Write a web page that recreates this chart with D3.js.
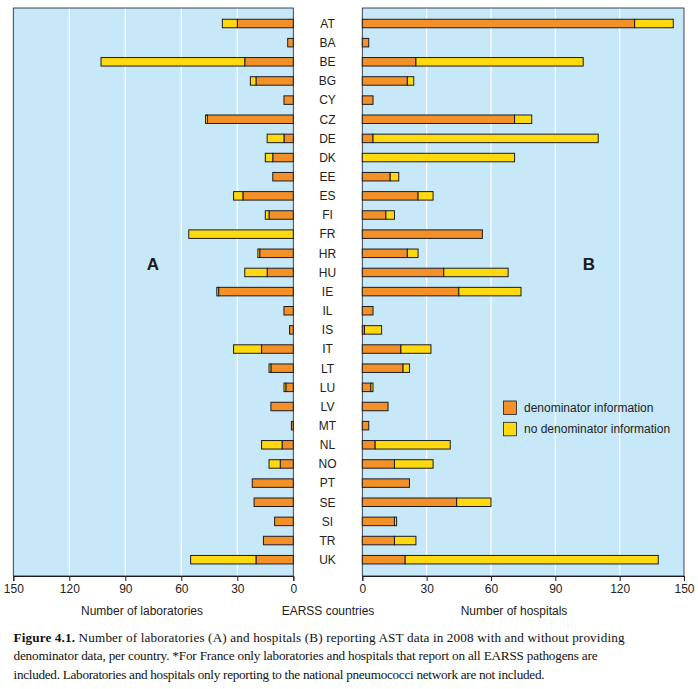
<!DOCTYPE html>
<html>
<head>
<meta charset="utf-8">
<script src="https://cdn.jsdelivr.net/npm/d3@7/dist/d3.min.js"></script>
<style>
  html, body { margin: 0; padding: 0; background: #ffffff; }
  svg { display: block; }
</style>
</head>
<body>
<svg id="chart" width="698" height="689"></svg>
<script>
// ---- data ----
const countries = ["AT","BA","BE","BG","CY","CZ","DE","DK","EE","ES","FI","FR","HR","HU","IE","IL","IS","IT","LT","LU","LV","MT","NL","NO","PT","SE","SI","TR","UK"];
const labDenom   = [30, 3, 26, 20, 5, 46, 5, 11, 11, 27, 13, 0, 18, 14, 40, 5, 2, 17, 12, 4, 12, 1, 6, 7, 22, 21, 10, 16, 20];
const labNoDenom = [ 8, 0, 77,  3, 0,  1, 9,  4,  0,  5,  2, 56, 1, 12,  1, 0, 0, 15,  1, 1,  0, 0, 11, 6,  0,  0,  0,  0, 35];
const hospDenom   = [127, 3, 25, 21, 5, 71, 5, 0, 13, 26, 11, 56, 21, 38, 45, 5, 1, 18, 19, 4, 12, 3, 6, 15, 22, 44, 15, 15, 20];
const hospNoDenom = [ 18, 0, 78,  3, 0,  8, 105, 71, 4, 7, 4, 0, 5, 30, 29, 0, 8, 14, 3, 1, 0, 0, 35, 18, 0, 16, 1, 10, 118];
const tickValues = [0, 30, 60, 90, 120, 150];
const seriesNames = ["denominator information", "no denominator information"];
const axisTitles = ["Number of laboratories", "EARSS countries", "Number of hospitals"];
const panelLetters = ["A", "B"];
const captionLines = [
  ["Figure 4.1.", " Number of laboratories (A) and hospitals (B) reporting AST data in 2008 with and without providing"],
  ["", "denominator data, per country. *For France only laboratories and hospitals that report on all EARSS pathogens are"],
  ["", "included. Laboratories and hospitals only reporting to the national pneumococci network are not included."]
];

// ---- layout ----
const svg = d3.select("#chart");
const ORANGE = "#F39128", YELLOW = "#FFD90F", BG = "#C7E8F8", DARK = "#1b1b24";
const panelTop = 8, panelBottom = 576;
const leftX = d3.scaleLinear().domain([0, 150]).range([293.3, 13.3]);
const rightX = d3.scaleLinear().domain([0, 150]).range([362.3, 684]);
const y = d3.scalePoint().domain(countries).range([23.5, 559.7]);
const barH = 8.5;

function panel(x, denom, noDenom, letter, letterX) {
  const [r0, r1] = x.range();
  const x0 = Math.min(r0, r1), x1 = Math.max(r0, r1);
  const g = svg.append("g");
  g.append("rect").attr("x", x0).attr("y", panelTop).attr("width", x1 - x0).attr("height", panelBottom - panelTop)
    .attr("fill", BG);
  // gridlines
  g.selectAll("line.grid").data(tickValues.filter(v => v > 0 && v < 150)).join("line")
    .attr("x1", d => x(d)).attr("x2", d => x(d)).attr("y1", panelTop).attr("y2", panelBottom)
    .attr("stroke", "#ffffff").attr("stroke-width", 1.2);
  // frame
  g.append("rect").attr("x", x0).attr("y", panelTop).attr("width", x1 - x0).attr("height", panelBottom - panelTop)
    .attr("fill", "none").attr("stroke", DARK).attr("stroke-width", 0.8);
  // letter
  g.append("text").attr("x", letterX).attr("y", 270).attr("text-anchor", "middle")
    .attr("font-family", "Liberation Sans, Arial, sans-serif").attr("font-weight", "bold").attr("font-size", 17)
    .attr("fill", "#1a1a1a").text(letter);
  // bars
  const data = countries.map((c, i) => ({c, d: denom[i], n: noDenom[i]}));
  const bars = g.selectAll("g.bar").data(data).join("g");
  bars.filter(d => d.d > 0).append("rect")
    .attr("x", d => Math.min(x(0), x(d.d))).attr("width", d => Math.abs(x(d.d) - x(0)))
    .attr("y", d => y(d.c) - barH / 2).attr("height", barH)
    .attr("fill", ORANGE).attr("stroke", DARK).attr("stroke-width", 1);
  bars.filter(d => d.n > 0).append("rect")
    .attr("x", d => Math.min(x(d.d), x(d.d + d.n))).attr("width", d => Math.abs(x(d.d + d.n) - x(d.d)))
    .attr("y", d => y(d.c) - barH / 2).attr("height", barH)
    .attr("fill", YELLOW).attr("stroke", DARK).attr("stroke-width", 1);
  // axis
  const axis = d3.axisBottom(x).tickValues(tickValues).tickSize(5).tickPadding(3).tickFormat(d3.format("d"));
  const ag = svg.append("g").attr("transform", `translate(0,${panelBottom})`).call(axis);
  ag.select(".domain").attr("stroke", DARK);
  ag.selectAll(".tick line").attr("stroke", DARK);
  ag.selectAll(".tick text").attr("font-family", "Liberation Sans, Arial, sans-serif").attr("font-size", 12).attr("fill", "#222");
}

panel(leftX, labDenom, labNoDenom, panelLetters[0], 153);
panel(rightX, hospDenom, hospNoDenom, panelLetters[1], 589);

// country labels
svg.append("g").selectAll("text").data(countries).join("text")
  .attr("x", 327.5).attr("y", d => y(d) + 4.3).attr("text-anchor", "middle")
  .attr("font-family", "Liberation Sans, Arial, sans-serif").attr("font-size", 12).attr("fill", "#222")
  .text(d => d);

// axis titles
const titleX = [142, 328, 514];
svg.append("g").selectAll("text").data(axisTitles).join("text")
  .attr("x", (d, i) => titleX[i]).attr("y", 615).attr("text-anchor", "middle")
  .attr("font-family", "Liberation Sans, Arial, sans-serif").attr("font-size", 12).attr("fill", "#222")
  .text(d => d);

// legend
const legend = svg.append("g");
[ORANGE, YELLOW].forEach((col, i) => {
  legend.append("rect").attr("x", 503.5).attr("y", 401 + i * 21.3).attr("width", 13).attr("height", 13.5)
    .attr("fill", col).attr("stroke", DARK).attr("stroke-width", 0.8);
  legend.append("text").attr("x", 524).attr("y", 412 + i * 21.3)
    .attr("font-family", "Liberation Sans, Arial, sans-serif").attr("font-size", 12).attr("fill", "#222")
    .text(seriesNames[i]);
});

// caption
const lineWidths = [611, 584, 531];
const cap = svg.append("g");
captionLines.forEach((parts, i) => {
  const t = cap.append("text").attr("x", 13.5).attr("y", 642 + i * 18.3)
    .attr("font-family", "Liberation Serif, 'Times New Roman', serif").attr("font-size", 13.2).attr("fill", "#111")
    .attr("textLength", lineWidths[i]).attr("lengthAdjust", "spacing");
  if (parts[0]) t.append("tspan").attr("font-weight", "bold").text(parts[0]);
  t.append("tspan").text(parts[1]);
});
</script>
</body>
</html>
